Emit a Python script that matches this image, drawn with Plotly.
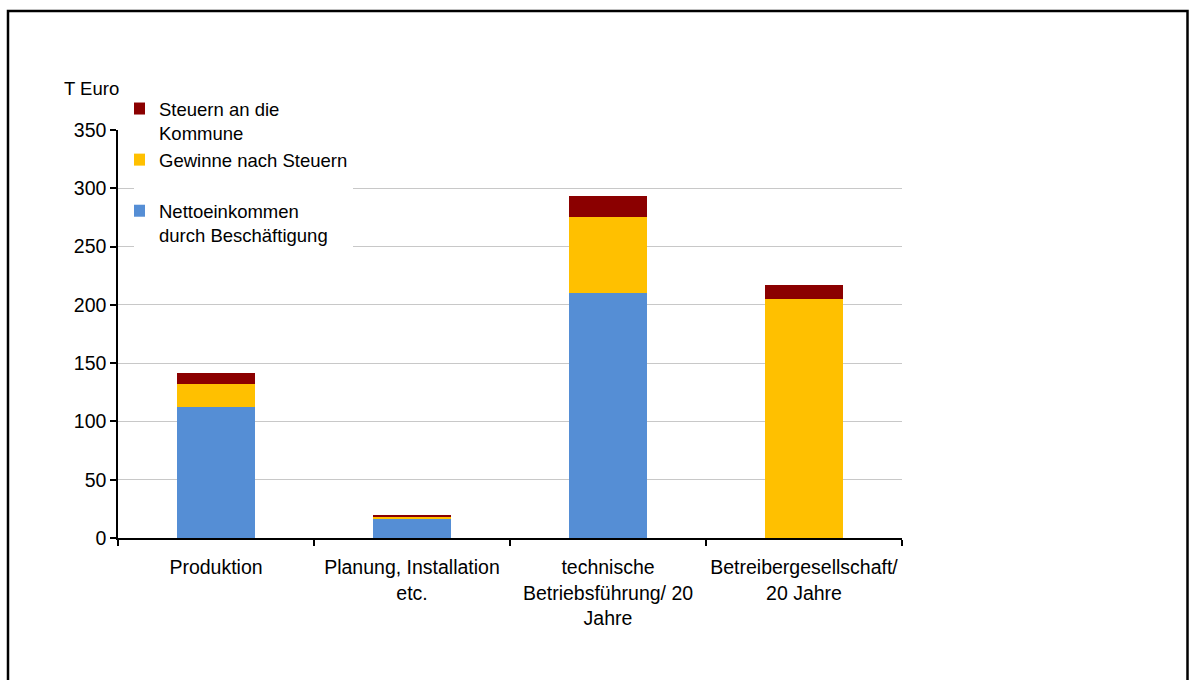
import plotly.graph_objects as go

# Categories (x axis) and stacked series, values in thousand euro
categories = [
    "Produktion",
    "Planung, Installation<br>etc.",
    "technische<br>Betriebsführung/ 20<br>Jahre",
    "Betreibergesellschaft/<br>20 Jahre",
]
nettoeinkommen = [112, 16, 210, 0]
gewinne = [20, 2.5, 65, 205]
steuern = [9.5, 1.5, 18, 12]

y_ticks = [0, 50, 100, 150, 200, 250, 300, 350]

FONT = "Liberation Sans, Arial, sans-serif"
FS = 19.5
FS_LEGEND = 18.5

fig = go.Figure()
fig.add_trace(go.Bar(x=categories, y=nettoeinkommen,
                     name="Nettoeinkommen<br>durch Beschäftigung",
                     marker=dict(color="#558ED5", line=dict(width=0)),
                     legendgroup="a"))
fig.add_trace(go.Bar(x=categories, y=gewinne,
                     name="Gewinne nach Steuern<br> ",
                     marker=dict(color="#FFC000", line=dict(width=0)),
                     legendgroup="b"))
fig.add_trace(go.Bar(x=categories, y=steuern,
                     name="Steuern an die<br>Kommune",
                     marker=dict(color="#8B0000", line=dict(width=0)),
                     legendgroup="c"))

# plot area: 118..902 px horizontally, 130..538 px vertically
L, R, T, B = 118, 1191 - 902, 130, 680 - 538
W, H = 1191 - L - R, 680 - T - B

fig.update_layout(
    width=1191, height=680,
    barmode="stack", bargap=0.6,
    margin=dict(l=L, r=R, t=T, b=B, pad=0, autoexpand=False),
    paper_bgcolor="white", plot_bgcolor="white",
    font=dict(family=FONT, size=FS, color="#000000"),
    showlegend=True,
    legend=dict(
        traceorder="reversed", x=(134 - L) / W, xanchor="left",
        y=(538 - 90) / H, yanchor="top",
        bgcolor="white", borderwidth=0, indentation=-15,
        valign="top", tracegroupgap=0,
        font=dict(family=FONT, size=FS_LEGEND, color="#000000"),
    ),
    xaxis=dict(
        type="category", tickson="boundaries", ticks="outside", ticklen=6,
        tickwidth=1.5, tickcolor="#000000", showline=True, linecolor="#000000",
        linewidth=1.5, showgrid=False, tickfont=dict(size=FS),
        ticklabelstandoff=11, tickangle=0, automargin=False,
    ),
    yaxis=dict(
        range=[0, 350], tickvals=y_ticks, ticks="outside", ticklen=6,
        tickwidth=1.5, tickcolor="#000000", showline=True, linecolor="#000000",
        linewidth=1.5, showgrid=True, gridcolor="#C8C8C8", gridwidth=1,
        zeroline=False, tickfont=dict(size=FS), automargin=False,
    ),
    annotations=[dict(
        text="T Euro", xref="paper", yref="paper",
        x=(91 - L) / W, y=(538 - 89) / H, xanchor="center", yanchor="middle",
        showarrow=False, font=dict(family=FONT, size=FS_LEGEND, color="#000000"),
    )],
    shapes=[dict(
        type="rect", xref="paper", yref="paper",
        x0=(8 - L) / W, x1=(1187.5 - L) / W,
        y0=(538 - 700) / H, y1=(538 - 11) / H,
        line=dict(color="#000000", width=2.5), fillcolor="rgba(0,0,0,0)",
        layer="above",
    )],
)

fig.write_html("out.html")
